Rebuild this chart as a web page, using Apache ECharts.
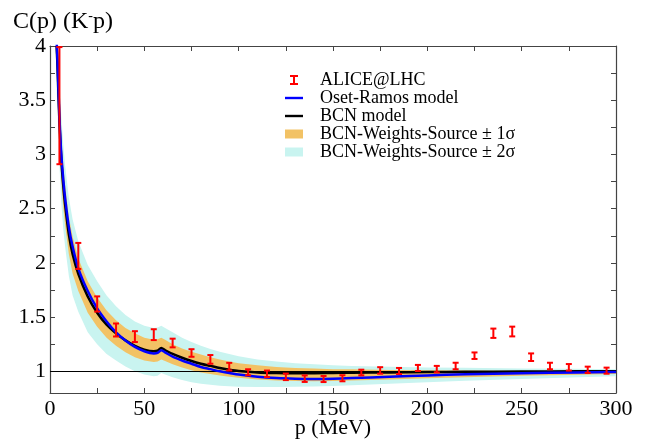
<!DOCTYPE html>
<html>
<head>
<meta charset="utf-8">
<script src="https://cdn.jsdelivr.net/npm/echarts@6/dist/echarts.min.js"></script>
<style>
  html, body { margin: 0; padding: 0; background: #ffffff; }
  #chart { width: 645px; height: 441px; }
</style>
</head>
<body>
<div id="chart"></div>
<script>
// Momentum grid (MeV) on which the model curves and bands are tabulated
const momentum = [3.5, 4, 5, 6, 7, 8, 10, 12, 15, 20,
                  25, 30, 35, 40, 45, 50, 55, 57, 59, 61,
                  65, 70, 75, 80, 85, 90, 95, 100, 110, 120,
                  130, 140, 150, 160, 180, 200, 220, 250, 280, 300];

// BCN model correlation function
const bcnModel = [4.0, 3.8, 3.3, 2.95, 2.72, 2.54, 2.26, 2.08, 1.9, 1.69,
                  1.54, 1.43, 1.35, 1.285, 1.235, 1.2, 1.185, 1.19, 1.215, 1.195,
                  1.16, 1.125, 1.095, 1.07, 1.05, 1.03, 1.015, 1.003, 0.99, 0.985,
                  0.983, 0.983, 0.985, 0.987, 0.99, 0.993, 0.996, 0.998, 1.0, 1.0];

// Oset-Ramos model correlation function
const osetRamos = [4.05, 3.85, 3.35, 3.0, 2.78, 2.6, 2.33, 2.15, 1.95, 1.74,
                   1.58, 1.46, 1.36, 1.285, 1.225, 1.185, 1.165, 1.17, 1.195, 1.175,
                   1.135, 1.1, 1.07, 1.04, 1.02, 1.0, 0.985, 0.97, 0.95, 0.938,
                   0.932, 0.93, 0.932, 0.938, 0.95, 0.962, 0.972, 0.982, 0.99, 0.993];

// BCN weights/source uncertainty bands
const sigma1Hi = [4.2, 4.0, 3.5, 3.15, 2.9, 2.72, 2.42, 2.24, 2.04, 1.83,
                  1.68, 1.56, 1.47, 1.4, 1.35, 1.31, 1.29, 1.295, 1.31, 1.29,
                  1.25, 1.21, 1.18, 1.155, 1.13, 1.11, 1.09, 1.075, 1.055, 1.04,
                  1.03, 1.025, 1.02, 1.018, 1.013, 1.01, 1.007, 1.004, 1.002, 1.0];
const sigma1Lo = [3.8, 3.6, 3.1, 2.75, 2.52, 2.35, 2.08, 1.9, 1.74, 1.54,
                  1.41, 1.31, 1.235, 1.175, 1.13, 1.1, 1.085, 1.09, 1.11, 1.095,
                  1.065, 1.035, 1.01, 0.99, 0.975, 0.962, 0.95, 0.94, 0.925, 0.915,
                  0.91, 0.908, 0.91, 0.915, 0.925, 0.935, 0.945, 0.958, 0.968, 0.975];
const sigma2Hi = [4.4, 4.2, 3.7, 3.35, 3.1, 2.9, 2.6, 2.4, 2.2, 1.98,
                  1.83, 1.7, 1.6, 1.52, 1.46, 1.42, 1.4, 1.405, 1.42, 1.4,
                  1.36, 1.31, 1.27, 1.235, 1.205, 1.18, 1.16, 1.14, 1.11, 1.09,
                  1.075, 1.065, 1.055, 1.05, 1.042, 1.036, 1.032, 1.027, 1.023, 1.02];
const sigma2Lo = [3.6, 3.4, 2.9, 2.55, 2.32, 2.15, 1.88, 1.7, 1.55, 1.36,
                  1.25, 1.16, 1.1, 1.045, 1.0, 0.97, 0.955, 0.96, 0.985, 0.97,
                  0.945, 0.92, 0.9, 0.885, 0.875, 0.868, 0.862, 0.858, 0.855, 0.855,
                  0.857, 0.86, 0.865, 0.872, 0.885, 0.9, 0.912, 0.928, 0.945, 0.955];

// ALICE@LHC measured K-p correlation
const aliceP = [5, 15, 25, 35, 45, 55, 65, 75, 85, 95,
                105, 115, 125, 135, 145, 155, 165, 175, 185, 195,
                205, 215, 225, 235, 245, 255, 265, 275, 285, 295];
const aliceC = [3.45, 2.064, 1.621, 1.381, 1.32, 1.338, 1.261, 1.169, 1.11, 1.043,
                0.991, 0.977, 0.949, 0.932, 0.929, 0.936, 0.989, 1.008, 1.003, 1.031,
                1.02, 1.049, 1.144, 1.351, 1.367, 1.13, 1.049, 1.037, 1.014, 1.006];
const aliceErr = [0.54, 0.12, 0.07, 0.06, 0.05, 0.05, 0.04, 0.035, 0.04, 0.035,
                  0.028, 0.03, 0.03, 0.03, 0.028, 0.028, 0.026, 0.03, 0.028, 0.028,
                  0.03, 0.03, 0.03, 0.043, 0.045, 0.035, 0.03, 0.03, 0.029, 0.028];

// Axis tick positions
const yLabelValues = [1, 1.5, 2, 2.5, 3, 3.5, 4];
const yTickValues = [1, 1.25, 1.5, 1.75, 2, 2.25, 2.5, 2.75, 3, 3.25, 3.5, 3.75, 4];

const serif = 'Liberation Serif';
const frameColor = '#444';

const chart = echarts.init(document.getElementById('chart'), null, { renderer: 'canvas' });

function bandSeries(name, lo, hi, color, z) {
  return {
    name: name,
    type: 'custom',
    xAxisIndex: 0, yAxisIndex: 0,
    clip: true,
    z: z,
    itemStyle: { color: color },
    data: momentum.map((x, i) => [x, lo[i], hi[i]]),
    encode: { x: 0, y: [1, 2] },
    renderItem: function (params, api) {
      if (params.dataIndex !== 0) return null;
      const pts = [];
      for (let i = 0; i < momentum.length; i++) pts.push(api.coord([momentum[i], hi[i]]));
      for (let i = momentum.length - 1; i >= 0; i--) pts.push(api.coord([momentum[i], lo[i]]));
      return { type: 'polygon', shape: { points: pts }, style: { fill: color } };
    }
  };
}

const axisCommon = {
  axisLine: { show: true, onZero: false, lineStyle: { color: frameColor, width: 1.2 } },
  splitLine: { show: false }
};

// Legend icons: glyph drawn in the left part of a 30x10 box so the label sits further right
const lineIcon = 'path://M0,0M30,10M0,3.8H18V6.2H0Z';
const boxIcon = 'path://M0,0M30,10M0,0.5H18V9.5H0Z';
const barIcon = 'path://M0,0M30,10M5,0H13V2H10V8H13V10H5V8H8V2H5Z';

const option = {
  animation: false,
  backgroundColor: '#ffffff',
  grid: { left: 50, right: 29, top: 46, bottom: 48, containLabel: false, outerBoundsMode: 'none' },
  title: {
    left: 13, top: 9, padding: 0,
    text: '{a|C(p) (K}{s|-}{a|p)}',
    textStyle: {
      fontWeight: 'normal',
      rich: {
        a: { fontFamily: serif, fontSize: 24, fontWeight: 'normal', color: '#000' },
        s: { fontFamily: serif, fontSize: 14, fontWeight: 'normal', color: '#000', padding: [0, 0, 12, 0] }
      }
    }
  },
  legend: {
    orient: 'vertical',
    left: 280, top: 66,
    itemWidth: 30, itemHeight: 10,
    itemGap: 0,
    selectedMode: false,
    textStyle: { fontFamily: serif, fontSize: 18, color: '#000', lineHeight: 18 },
    data: [
      { name: 'ALICE@LHC', icon: barIcon, itemStyle: { color: '#ff0000' } },
      { name: 'Oset-Ramos model', icon: lineIcon, itemStyle: { color: '#0000ff' } },
      { name: 'BCN model', icon: lineIcon, itemStyle: { color: '#000000' } },
      { name: 'BCN-Weights-Source ± 1σ', icon: boxIcon },
      { name: 'BCN-Weights-Source ± 2σ', icon: boxIcon }
    ]
  },
  xAxis: [
    Object.assign({}, axisCommon, {
      type: 'value', position: 'bottom', min: 0, max: 300, interval: 50,
      axisTick: { show: true, inside: true, length: 5, lineStyle: { color: frameColor } },
      minorTick: { show: true, splitNumber: 2, length: 5, lineStyle: { color: frameColor } },
      axisLabel: { fontFamily: serif, fontSize: 22, color: '#000', margin: 5 },
      name: 'p (MeV)', nameLocation: 'middle', nameGap: 24, nameMoveOverlap: false,
      nameTextStyle: { fontFamily: serif, fontSize: 22, color: '#000' }
    }),
    Object.assign({}, axisCommon, {
      type: 'value', position: 'top', min: 0, max: 300, interval: 50,
      axisTick: { show: true, inside: true, length: 5, lineStyle: { color: frameColor } },
      minorTick: { show: true, splitNumber: 2, length: 5, lineStyle: { color: frameColor } },
      axisLabel: { show: false }
    })
  ],
  yAxis: [
    Object.assign({}, axisCommon, {
      type: 'value', position: 'left', min: 0.8, max: 4,
      axisTick: { show: true, inside: true, length: 5, customValues: yTickValues, lineStyle: { color: frameColor } },
      axisLabel: { fontFamily: serif, fontSize: 22, color: '#000', margin: 4, customValues: yLabelValues }
    }),
    Object.assign({}, axisCommon, {
      type: 'value', position: 'right', min: 0.8, max: 4,
      axisTick: { show: true, inside: true, length: 5, customValues: yTickValues, lineStyle: { color: frameColor } },
      axisLabel: { show: false }
    })
  ],
  series: [
    bandSeries('BCN-Weights-Source ± 2σ', sigma2Lo, sigma2Hi, '#c9f4f0', 1),
    bandSeries('BCN-Weights-Source ± 1σ', sigma1Lo, sigma1Hi, '#f2c265', 2),
    {
      name: 'unity', type: 'line', xAxisIndex: 0, yAxisIndex: 0, z: 3,
      data: [], silent: true,
      markLine: {
        silent: true, symbol: 'none', label: { show: false },
        lineStyle: { color: '#000', width: 1, type: 'solid' },
        data: [{ yAxis: 1 }]
      }
    },
    {
      name: 'BCN model', type: 'line', z: 4,
      data: momentum.map((x, i) => [x, bcnModel[i]]),
      showSymbol: false, symbol: 'none', smooth: 0.3, clip: true,
      itemStyle: { color: '#000000' },
      lineStyle: { color: '#000000', width: 2.5 }
    },
    {
      name: 'Oset-Ramos model', type: 'line', z: 5,
      data: momentum.map((x, i) => [x, osetRamos[i]]),
      showSymbol: false, symbol: 'none', smooth: 0.3, clip: true,
      itemStyle: { color: '#0000ff' },
      lineStyle: { color: '#0000ff', width: 2.5 }
    },
    {
      name: 'ALICE@LHC', type: 'custom', z: 6, clip: true,
      itemStyle: { color: '#ff0000' },
      data: aliceP.map((x, i) => [x, aliceC[i], aliceErr[i]]),
      encode: { x: 0, y: 1 },
      renderItem: function (params, api) {
        const x = api.value(0), c = api.value(1), e = api.value(2);
        const top = api.coord([x, c + e]);
        const bot = api.coord([x, c - e]);
        const hw = 3;
        const st = { stroke: '#ff0000', lineWidth: 2 };
        return {
          type: 'group',
          children: [
            { type: 'line', shape: { x1: top[0], y1: top[1], x2: bot[0], y2: bot[1] }, style: st },
            { type: 'line', shape: { x1: top[0] - hw, y1: top[1], x2: top[0] + hw, y2: top[1] }, style: st },
            { type: 'line', shape: { x1: bot[0] - hw, y1: bot[1], x2: bot[0] + hw, y2: bot[1] }, style: st }
          ]
        };
      }
    }
  ]
};

chart.setOption(option);
</script>
</body>
</html>
